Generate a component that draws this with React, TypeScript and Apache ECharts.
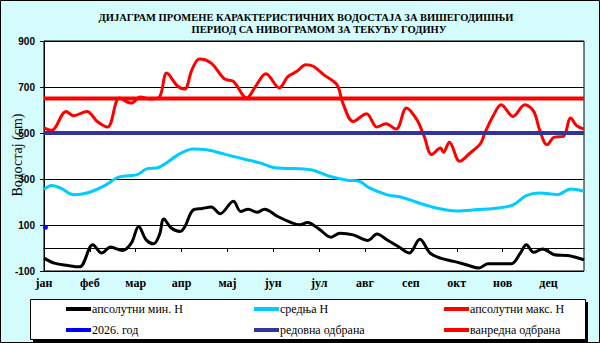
import React, { useEffect, useRef } from 'react';
import * as echarts from 'echarts';

const titleLines = [
  'ДИЈАГРАМ ПРОМЕНЕ КАРАКТЕРИСТИЧНИХ ВОДОСТАЈА ЗА ВИШЕГОДИШЊИ',
  'ПЕРИОД СА НИВОГРАМОМ ЗА ТЕКУЋУ ГОДИНУ',
];
const yAxisName = 'Водостај (cm)';
const months = ['јан', 'феб', 'мар', 'апр', 'мај', 'јун', 'јул', 'авг', 'сеп', 'окт', 'нов', 'дец'];
const monthTickDays = [0, 31, 62, 93, 124, 155, 186, 217, 248, 279, 310, 341];
const seriesNames = ['апсолутни мин. Н', 'средња Н', 'апсолутни макс. Н', '2026. год', 'редовна одбрана', 'ванредна одбрана'];

const minDays = [0, 7, 16, 24, 33, 39, 45, 53, 59, 64, 69, 74, 78, 81, 86, 92, 95, 101, 107, 113, 119, 128, 133, 138, 144, 149, 158, 167, 173, 178, 186, 194, 200, 209, 219, 225, 232, 240, 247, 254, 261, 268, 277, 286, 294, 300, 308, 316, 322, 326, 331, 337, 345, 354, 365];
const minVals = [-44, -66, -76, -82, 14, -22, 4, -11, 21, 94, 36, 18, 57, 126, 87, 72, 90, 166, 172, 178, 149, 203, 159, 169, 155, 169, 137, 111, 101, 111, 82, 47, 64, 57, 33, 61, 35, 4, -22, 38, -22, -44, -58, -74, -87, -68, -68, -68, -22, 14, -19, -4, -29, -33, -51];

const meanDays = [0, 5, 11, 20, 29, 40, 51, 63, 69, 78, 92, 101, 110, 123, 137, 146, 155, 164, 173, 182, 193, 205, 213, 220, 232, 241, 252, 263, 279, 293, 304, 317, 326, 335, 347, 356, 365];
const meanVals = [254, 272, 261, 232, 239, 268, 309, 319, 343, 352, 410, 430, 427, 406, 384, 370, 350, 346, 345, 338, 312, 295, 290, 261, 231, 222, 199, 177, 161, 167, 172, 187, 228, 239, 232, 257, 247];

const maxDays = [0, 5, 15, 20, 29, 36, 43, 51, 59, 65, 72, 78, 83, 90, 95, 100, 105, 113, 122, 128, 137, 143, 150, 159, 165, 171, 177, 182, 189, 198, 202, 209, 218, 225, 231, 238, 245, 252, 257, 262, 268, 270, 274, 281, 288, 295, 298, 304, 309, 317, 325, 331, 335, 340, 345, 351, 356, 360, 365];
const maxVals = [522, 511, 594, 575, 594, 550, 526, 652, 630, 656, 648, 656, 761, 706, 691, 775, 822, 804, 735, 724, 652, 703, 758, 696, 746, 768, 797, 790, 754, 710, 630, 550, 584, 526, 540, 517, 609, 558, 485, 406, 435, 416, 460, 377, 413, 454, 500, 579, 623, 572, 623, 594, 514, 449, 482, 485, 565, 532, 517];

const currentDays = [1];
const currentVals = [90];

const regularDefense = 500;
const emergencyDefense = 650;
const yearDays = [0, 365];

const zip = (xs: number[], ys: number[]) => xs.map((x, i) => [x, ys[i]]);

const colors = ['#000000', '#00ccff', '#ff0000', '#0000ff', '#333399', '#ff0000'];
const SERIF = '"Liberation Serif", "Times New Roman", Times, serif';
const SANS = '"Liberation Sans", Arial, sans-serif';

export default function App() {
  const ref = useRef<HTMLDivElement>(null);
  useEffect(() => {
    const chart = echarts.init(ref.current!, null, { renderer: 'svg' });
    const legendPos = [
      [66, 303], [254, 303], [444, 303],
      [66, 324], [254, 324], [444, 324],
    ];
    const option: any = {
      animation: false,
      backgroundColor: '#d4fcfc',
      grid: {
        left: 44, right: 16, top: 41, bottom: 72, containLabel: false,
        show: true, backgroundColor: '#ffffff', borderColor: '#000', borderWidth: 1,
      },
      graphic: [
        { type: 'rect', shape: { x: 0.5, y: 0.5, width: 599, height: 342 }, style: { fill: 'none', stroke: '#000', lineWidth: 1 }, silent: true },
        { type: 'rect', shape: { x: 33, y: 302, width: 555, height: 40 }, style: { fill: '#000' }, silent: true },
        { type: 'rect', shape: { x: 30.5, y: 299.5, width: 555, height: 40 }, style: { fill: '#fff', stroke: '#000', lineWidth: 1 }, silent: true },
        { type: 'text', x: 306, y: 17.5, style: { text: titleLines[0], fontFamily: SERIF, fontSize: 10.5, fontWeight: 'bold', fill: '#000', align: 'center', verticalAlign: 'middle', textAlign: 'center', textVerticalAlign: 'middle' } },
        { type: 'text', x: 319, y: 29, style: { text: titleLines[1], fontFamily: SERIF, fontSize: 10.5, fontWeight: 'bold', fill: '#000', align: 'center', verticalAlign: 'middle', textAlign: 'center', textVerticalAlign: 'middle' } },
        { type: 'text', x: 17, y: 155, rotation: Math.PI / 2, style: { text: yAxisName, fontFamily: SERIF, fontSize: 14, fill: '#000', align: 'center', verticalAlign: 'middle', textAlign: 'center', textVerticalAlign: 'middle' } },
      ],
      legend: seriesNames.map((n, i) => ({
        data: [n],
        left: legendPos[i][0],
        top: legendPos[i][1],
        padding: 0,
        icon: 'rect',
        itemWidth: 25,
        itemHeight: 4,
        selectedMode: false,
        textStyle: { fontFamily: SERIF, fontSize: 12, color: '#000', padding: [0, 0, 0, -4] },
      })),
      xAxis: {
        type: 'value', min: 0, max: 365, interval: 31,
        axisLine: { show: true, lineStyle: { color: '#000', width: 1 } },
        axisTick: { show: true, length: 4, lineStyle: { color: '#000' }, customValues: monthTickDays },
        axisLabel: {
          customValues: monthTickDays,
          formatter: (v: number) => { const i = monthTickDays.indexOf(v); return i >= 0 ? months[i] : ''; },
          fontFamily: SERIF, fontSize: 12, fontWeight: 'bold', color: '#000', margin: 6,
        },
        splitLine: { show: false },
      },
      yAxis: {
        type: 'value', min: -100, max: 900, interval: 200,
        axisLine: { show: true, lineStyle: { color: '#000', width: 1 } },
        axisTick: { show: true, length: 4, lineStyle: { color: '#000' } },
        axisLabel: { fontFamily: SANS, fontSize: 10, fontWeight: 'bold', color: '#000', margin: 9 },
        splitLine: { show: true, lineStyle: { color: '#000', width: 1 } },
      },
      series: [
        { name: seriesNames[0], type: 'line', data: zip(minDays, minVals), smooth: 0.35, showSymbol: false, lineStyle: { color: colors[0], width: 3 }, itemStyle: { color: colors[0] } },
        { name: seriesNames[1], type: 'line', data: zip(meanDays, meanVals), smooth: 0.35, showSymbol: false, lineStyle: { color: colors[1], width: 3 }, itemStyle: { color: colors[1] } },
        { name: seriesNames[2], type: 'line', data: zip(maxDays, maxVals), smooth: 0.35, showSymbol: false, lineStyle: { color: colors[2], width: 3 }, itemStyle: { color: colors[2] } },
        { name: seriesNames[3], type: 'line', data: zip(currentDays, currentVals), showSymbol: true, symbol: 'circle', symbolSize: 5, lineStyle: { color: colors[3], width: 3 }, itemStyle: { color: colors[3] } },
        { name: seriesNames[4], type: 'line', data: yearDays.map((d) => [d, regularDefense]), showSymbol: false, lineStyle: { color: colors[4], width: 4 }, itemStyle: { color: colors[4] } },
        { name: seriesNames[5], type: 'line', data: yearDays.map((d) => [d, emergencyDefense]), showSymbol: false, lineStyle: { color: colors[5], width: 4 }, itemStyle: { color: colors[5] } },
      ],
    };
    chart.setOption(option);
    return () => chart.dispose();
  }, []);
  return <div ref={ref} style={{ position: 'absolute', left: 0, top: 0, width: 600, height: 343 }} />;
}
